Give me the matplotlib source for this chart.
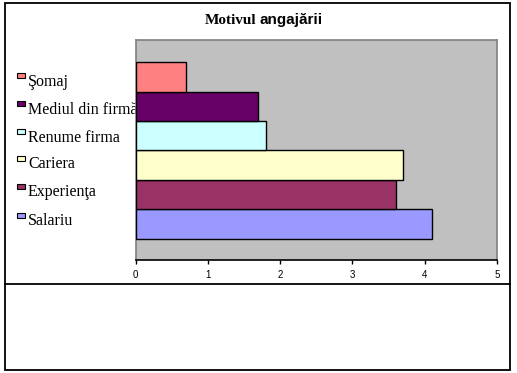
import matplotlib
matplotlib.use("Agg")
import matplotlib.pyplot as plt
from matplotlib.patches import Rectangle
from matplotlib.lines import Line2D

categories = ["Salariu", "Experienţa", "Cariera", "Renume firma", "Mediul din firmă", "Şomaj"]
values = [4.1, 3.6, 3.7, 1.8, 1.7, 0.7]
colors = ["#9999FF", "#993366", "#FFFFCC", "#CCFFFF", "#660066", "#FF8080"]
xticks = [0, 1, 2, 3, 4, 5]
title_a = "Motivul"
title_b = "angajării"

W, H = 517, 373
fig = plt.figure(figsize=(W / 100, H / 100), dpi=100)
fig.patch.set_facecolor("white")

def fx(px):
    return px / W

def fy(py):
    return 1 - py / H

# plot area in pixels
L, R, T, B = 135.5, 497, 40, 260
ax = fig.add_axes([fx(L), fy(B), fx(R) - fx(L), fy(T) - fy(B)])
ax.set_facecolor("#C0C0C0")
ypos = list(range(len(categories)))
ax.barh(ypos, values, height=1.0, color=colors, edgecolor="black", linewidth=1.0, zorder=3)
ax.set_xlim(0, 5)
ax.set_ylim(-1.22, 6.25)
ax.set_xticks(xticks)
ax.set_xticklabels([str(t) for t in xticks], fontsize=7, family="Liberation Sans")
ax.set_yticks([])
ax.tick_params(axis="x", direction="out", length=3, width=1, pad=4)
for s in ["top", "right", "left"]:
    ax.spines[s].set_color("#808080")
    ax.spines[s].set_linewidth(1.2)
ax.spines["bottom"].set_color("black")
ax.spines["bottom"].set_linewidth(1.2)

# legend drawn manually, top to bottom
legend_y = [80, 108, 136, 163, 191, 220]
order = list(reversed(range(len(categories))))
for yy, i in zip(legend_y, order):
    fig.patches.append(Rectangle((fx(17), fy(yy - 2)), fx(8) - fx(0), fy(0) - fy(5),
                                 transform=fig.transFigure, facecolor=colors[i],
                                 edgecolor="black", linewidth=0.8, zorder=-1))
    fig.text(fx(28), fy(yy + 1.5), categories[i], family="Liberation Serif", fontsize=11.5,
             va="center", ha="left", zorder=-1)

# title
fig.text(fx(256.5), fy(20), title_a, family="Liberation Serif", fontweight="bold",
         fontsize=11, ha="right", va="center")
fig.text(fx(259), fy(20), title_b, family="Liberation Sans", fontweight="bold",
         fontsize=11, ha="left", va="center")

# outer frame and separator
fig.patches.append(Rectangle((fx(4.5), fy(370)), fx(510) - fx(4.5), fy(2.5) - fy(370),
                             transform=fig.transFigure, fill=False, edgecolor="black",
                             linewidth=1.3))
fig.lines.append(Line2D([fx(4.5), fx(510)], [fy(284), fy(284)], transform=fig.transFigure,
                        color="black", linewidth=1.3))

fig.savefig("out.png", dpi=100)
